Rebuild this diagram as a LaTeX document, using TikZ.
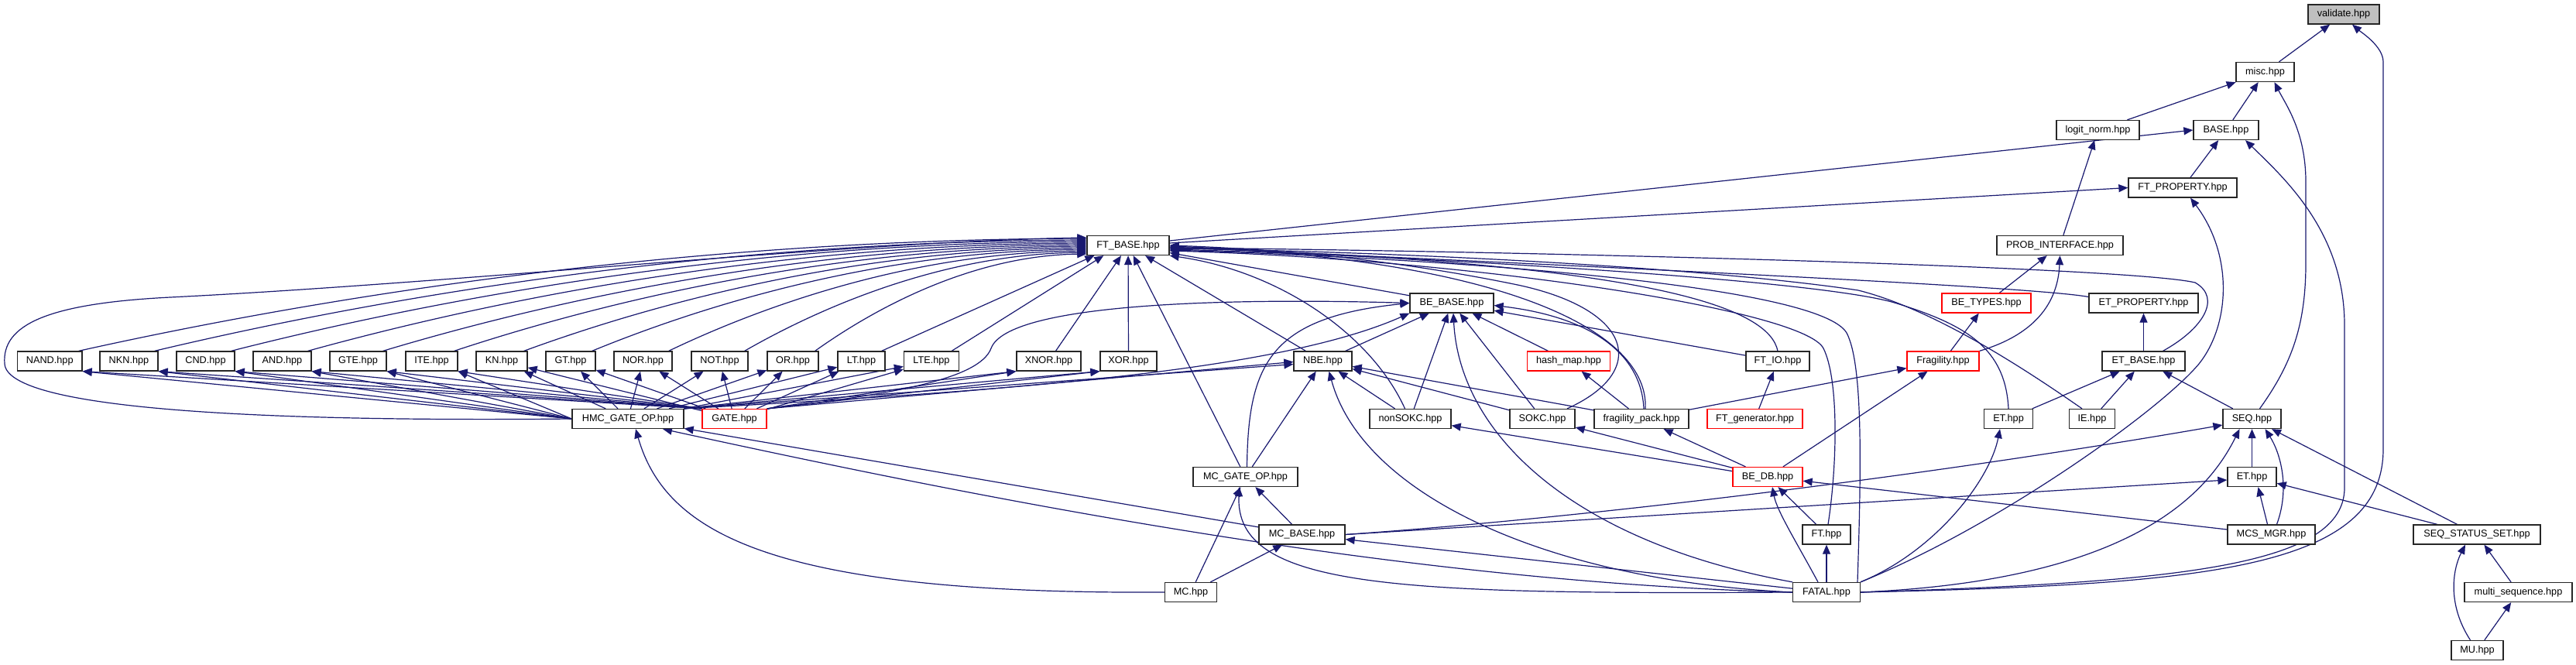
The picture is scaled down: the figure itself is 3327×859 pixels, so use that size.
\documentclass[tikz,border=0pt]{standalone}
\usepackage{fontspec}
\setmainfont{Liberation Sans}
\usetikzlibrary{arrows.meta}
\definecolor{edgeblue}{HTML}{191970}
\definecolor{rootgray}{HTML}{BFBFBF}
\pgfdeclarelayer{bg}
\pgfsetlayers{bg,main}
\begin{document}
\begin{tikzpicture}[x=1pt,y=-1pt,
  box/.style={draw=black!85, line width=1.3pt, fill=white, minimum height=25pt, inner sep=0pt,
              font=\fontsize{12.7pt}{15pt}\selectfont, text=black},
  redbox/.style={box, draw=red},
  rootbox/.style={box, fill=rootgray},
  edge/.style={draw=edgeblue, line width=1.2pt, -{Triangle[length=12pt,width=10pt]}}]
\useasboundingbox (0,0) rectangle (3327,859);
% ---------------- nodes ----------------
\node[rootbox, minimum width=92pt]  (validate) at (3027,18.5) {validate.hpp};
\node[box, minimum width=75pt]  (misc)  at (2925.5,93) {misc.hpp};
\node[box, minimum width=107pt] (logit) at (2709.5,168) {logit\_norm.hpp};
\node[box, minimum width=84pt]  (BASE)  at (2875,168) {BASE.hpp};
\node[box, minimum width=140pt] (FTP)   at (2819,242.5) {FT\_PROPERTY.hpp};
\node[box, minimum width=106pt] (FTB)   at (1457,317) {FT\_BASE.hpp};
\node[box, minimum width=163pt] (PROB)  at (2660.5,317) {PROB\_INTERFACE.hpp};
\node[box, minimum width=108pt] (BEB)   at (1875,391.5) {BE\_BASE.hpp};
\node[redbox, minimum width=115pt] (BET) at (2565.5,391.5) {BE\_TYPES.hpp};
\node[box, minimum width=141pt] (ETP)   at (2768.5,391.5) {ET\_PROPERTY.hpp};
% row 6
\node[box, minimum width=83.5pt] (NAND) at (64.25,466.5) {NAND.hpp};
\node[box, minimum width=75pt] (NKN)  at (166.5,466.5) {NKN.hpp};
\node[box, minimum width=75pt] (CND)  at (265.5,466.5) {CND.hpp};
\node[box, minimum width=75pt] (AND)  at (364.5,466.5) {AND.hpp};
\node[box, minimum width=73pt] (GTE)  at (462.5,466.5) {GTE.hpp};
\node[box, minimum width=67pt] (ITE)  at (557.5,466.5) {ITE.hpp};
\node[box, minimum width=66pt] (KN)   at (648,466.5) {KN.hpp};
\node[box, minimum width=64pt] (GT)   at (737,466.5) {GT.hpp};
\node[box, minimum width=75pt] (NOR)  at (830.5,466.5) {NOR.hpp};
\node[box, minimum width=73pt] (NOT)  at (929.5,466.5) {NOT.hpp};
\node[box, minimum width=66pt] (OR)   at (1024,466.5) {OR.hpp};
\node[box, minimum width=61pt] (LT)   at (1112.5,466.5) {LT.hpp};
\node[box, minimum width=71pt] (LTE)  at (1203,466.5) {LTE.hpp};
\node[box, minimum width=83pt] (XNOR) at (1354.5,466.5) {XNOR.hpp};
\node[box, minimum width=73pt] (XOR)  at (1457.5,466.5) {XOR.hpp};
\node[box, minimum width=75pt] (NBE)  at (1708.5,466.5) {NBE.hpp};
\node[redbox, minimum width=106.5pt] (hash) at (2026,466.5) {hash\_map.hpp};
\node[box, minimum width=82pt] (FTIO) at (2296,466.5) {FT\_IO.hpp};
\node[redbox, minimum width=93pt] (Frag) at (2509.5,466.5) {Fragility.hpp};
\node[box, minimum width=107pt] (ETB) at (2768.5,466.5) {ET\_BASE.hpp};
% row 7
\node[box, minimum width=144pt] (HMC) at (811,541) {HMC\_GATE\_OP.hpp};
\node[redbox, minimum width=83pt] (GATE) at (948.5,541) {GATE.hpp};
\node[box, minimum width=105pt] (nonSOKC) at (1821.5,541) {nonSOKC.hpp};
\node[box, minimum width=84pt] (SOKC) at (1992,541) {SOKC.hpp};
\node[box, minimum width=122pt] (fpack) at (2120,541) {fragility\_pack.hpp};
\node[redbox, minimum width=123pt] (FTgen) at (2266.5,541) {FT\_generator.hpp};
\node[box, minimum width=62.5pt] (ET7) at (2594,541) {ET.hpp};
\node[box, minimum width=58.5pt] (IE) at (2702,541) {IE.hpp};
\node[box, minimum width=75pt] (SEQ) at (2908.5,541) {SEQ.hpp};
% row 8
\node[box, minimum width=135pt] (MCG) at (1608.5,616) {MC\_GATE\_OP.hpp};
\node[redbox, minimum width=90pt] (BEDB) at (2283,616) {BE\_DB.hpp};
\node[box, minimum width=63pt] (ET8) at (2908.5,616) {ET.hpp};
% row 9
\node[box, minimum width=111pt] (MCB) at (1681.5,690.5) {MC\_BASE.hpp};
\node[box, minimum width=62pt] (FT) at (2359,690.5) {FT.hpp};
\node[box, minimum width=113pt] (MCS) at (2933.5,690.5) {MCS\_MGR.hpp};
\node[box, minimum width=164pt] (SSS) at (3199,690.5) {SEQ\_STATUS\_SET.hpp};
% row 10
\node[box, minimum width=66.5pt] (MC) at (1538,765) {MC.hpp};
\node[box, minimum width=86.5pt] (FATAL) at (2359,765) {FATAL.hpp};
\node[box, minimum width=139pt] (msq) at (3252.5,765) {multi\_sequence.hpp};
% row 11
\node[box, minimum width=67pt] (MU) at (3199.5,840) {MU.hpp};
% ---------------- edges ----------------
\begin{pgfonlayer}{bg}
\fill[white] (0,0) rectangle (3327,859);
% top part
\draw[edge] (misc) -- (validate);
\draw[edge] (FATAL.east) .. controls (2850,755) and (3078,735) .. (3078,580) -- (3078,80) .. controls (3078,60) and (3050,42) .. ([xshift=11pt]validate.south);
\draw[edge] (logit) -- (misc);
\draw[edge] (BASE) -- (misc);
\draw[edge] ([xshift=10pt]SEQ.north) .. controls (2960,470) and (2978,420) .. (2978,340) -- (2978,235) .. controls (2978,170) and (2952,135) .. ([xshift=12pt]misc.south);
\draw[edge] ([yshift=6pt]FTB.east) -- (BASE.west);
\draw[edge] (FTP) -- (BASE);
\draw[edge] (FATAL.east) .. controls (2820,752) and (3028,730) .. (3028,630) -- (3028,420) .. controls (3028,300) and (2950,230) .. ([xshift=25pt]BASE.south);
\draw[edge] (PROB) -- (logit);
\draw[edge] ([yshift=3pt]FTB.east) -- (FTP.west);
\draw[edge] (FATAL.north east) .. controls (2580,680) and (2790,530) .. (2840,470) .. controls (2880,420) and (2885,330) .. ([xshift=10pt]FTP.south);
\draw[edge] (BET) -- (PROB);
\draw[edge] (Frag.north east) .. controls (2635,430) and (2658,385) .. (PROB.south);
\draw[edge] (Frag) -- (BET);
\draw[edge] (ETB) -- (ETP);
\draw[edge] (ET7) -- (ETB);
\draw[edge] (IE) -- (ETB);
\draw[edge] (SEQ) -- (ETB);
% into FT_BASE from the right
\draw[edge] ([xshift=25pt]ETB.north) .. controls (2845,425) and (2870,385) .. (2835,365) .. controls (2750,345) and (2000,325) .. ([yshift=-3pt]FTB.east);
\draw[edge] ([yshift=8pt]ETP.west) .. controls (2640,373) and (2300,355) .. ([yshift=-2pt]FTB.east);
\draw[edge] ([xshift=-13pt]IE.north) .. controls (2620,480) and (2500,400) .. (2400,375) .. controls (2200,345) and (1800,325) .. ([yshift=-4pt]FTB.east);
\draw[edge] (ET7.north) .. controls (2590,450) and (2540,420) .. (2450,392) .. controls (2350,360) and (1800,330) .. ([yshift=-5pt]FTB.east);
\draw[edge] ([xshift=40pt]FATAL.north) .. controls (2404,600) and (2406,470) .. (2385,430) .. controls (2350,370) and (1900,335) .. ([yshift=-6pt]FTB.east);
\draw[edge] ([xshift=2pt]FT.north) .. controls (2373,600) and (2375,490) .. (2355,450) .. controls (2330,400) and (1900,335) .. ([yshift=-7pt]FTB.east);
\draw[edge] (FTIO.north) .. controls (2285,400) and (2150,340) .. ([yshift=-3pt]FTB.east);
\draw[edge] ([xshift=5pt]fpack.north) .. controls (2130,430) and (1950,335) .. ([yshift=-1pt]FTB.east);
\draw[edge] ([xshift=32pt]SOKC.north) .. controls (2130,480) and (2110,400) .. (1960,368) .. controls (1800,335) and (1650,322) .. (FTB.east);
\draw[edge] ([xshift=-7pt]nonSOKC.north) .. controls (1770,430) and (1650,350) .. (FTB.south east);
\draw[edge] (NBE) -- (FTB);
\draw[edge] (BEB) -- (FTB);
\draw[edge] (MCG) -- (FTB);
% BE_BASE and neighbours
\draw[edge] (MCG) -- (NBE);
\draw[edge] ([xshift=2pt]MCG.north) .. controls (1612,470) and (1640,410) .. (BEB.west);
\draw[edge] (NBE) -- (BEB);
\draw[edge] (nonSOKC) -- (BEB);
\draw[edge] (nonSOKC) -- (NBE);
\draw[edge] (SOKC) -- (BEB);
\draw[edge] (SOKC) -- (NBE);
\draw[edge] (hash) -- (BEB);
\draw[edge] (FTIO) -- (BEB);
\draw[edge] ([xshift=3pt]fpack.north) .. controls (2120,460) and (2060,410) .. ([yshift=-3pt]BEB.east);
\draw[edge] (fpack) -- (hash);
\draw[edge] (fpack) -- (NBE);
\draw[edge] (fpack) -- (Frag);
\draw[edge] (FTgen) -- (FTIO);
\draw[edge] (BEDB) -- (Frag);
\draw[edge] (BEDB) -- (fpack);
\draw[edge] (BEDB) -- (SOKC);
\draw[edge] (BEDB) -- (nonSOKC);
\draw[edge] (FT) -- (BEDB);
\draw[edge] (MCS) -- (BEDB);
\draw[edge] ([xshift=-11pt]FATAL.north) .. controls (2320,700) and (2295,660) .. ([xshift=6pt]BEDB.south);
\draw[edge] (FATAL) -- (FT);
\draw[edge] (FATAL.north west) .. controls (2030,700) and (1885,560) .. ([xshift=2pt]BEB.south);
\draw[edge] (FATAL.west) .. controls (2000,750) and (1760,640) .. ([xshift=8pt]NBE.south);
% MC family
\draw[edge] (MCB) -- (MCG);
\draw[edge] (MC) -- (MCG);
\draw[edge] (MC) -- (MCB);
\draw[edge] (MC.west) .. controls (1000,768) and (860,690) .. ([xshift=10pt]HMC.south);
\draw[edge] (MCB) -- (HMC);
\draw[edge] (FATAL.west) .. controls (1800,752) and (1250,640) .. ([xshift=45pt]HMC.south);
\draw[edge] (FATAL) -- (MCB);
\draw[edge] (FATAL.west) .. controls (1800,768) and (1595,760) .. ([xshift=-8pt]MCG.south);
% ET / SEQ family
\draw[edge] (FATAL.north east) .. controls (2500,712) and (2570,620) .. ([xshift=-11pt]ET7.south);
\draw[edge] (FATAL.east) .. controls (2750,750) and (2850,640) .. ([xshift=-16pt]SEQ.south);
\draw[edge] (ET8) -- (SEQ);
\draw[edge] ([xshift=7pt]MCS.north) .. controls (2958,630) and (2945,585) .. ([xshift=17pt]SEQ.south);
\draw[edge] ([xshift=-5pt]MCS.north) -- ([xshift=8pt]ET8.south);
\draw[edge] (SSS) -- (ET8);
\draw[edge] (SSS) -- (SEQ);
\draw[edge] ([xshift=-9pt]MU.north) .. controls (3160,780) and (3168,735) .. ([xshift=-15pt]SSS.south);
\draw[edge] (msq) -- (SSS);
\draw[edge] (MU) -- (msq);
\draw[edge] (MCB.east) .. controls (2100,665) and (2550,605) .. ([yshift=-8pt]SEQ.west);
\draw[edge] (MCB.east) -- ([yshift=-4pt]ET8.west);
% gates -> FT_BASE
\draw[edge] ([xshift=-5pt]NAND.north east) .. controls (427,381) and (883,310) .. ([yshift=9pt]FTB.west);
\draw[edge] ([xshift=-5pt]NKN.north east) .. controls (500,382) and (922,312) .. ([yshift=7pt]FTB.west);
\draw[edge] ([xshift=-5pt]CND.north east) .. controls (575,383) and (962,314) .. ([yshift=5pt]FTB.west);
\draw[edge] ([xshift=-5pt]AND.north east) .. controls (649,384) and (1001,316) .. ([yshift=3pt]FTB.west);
\draw[edge] ([xshift=-5pt]GTE.north east) .. controls (722,385) and (1040,318) .. ([yshift=1pt]FTB.west);
\draw[edge] ([xshift=-5pt]ITE.north east) .. controls (790,386) and (1077,320) .. ([yshift=-1pt]FTB.west);
\draw[edge] ([xshift=-5pt]KN.north east) .. controls (858,387) and (1113,322) .. ([yshift=-3pt]FTB.west);
\draw[edge] ([xshift=-5pt]GT.north east) .. controls (924,388) and (1148,324) .. ([yshift=-5pt]FTB.west);
\draw[edge] ([xshift=-5pt]NOR.north east) .. controls (998,389) and (1188,326) .. ([yshift=-7pt]FTB.west);
\draw[edge] ([xshift=-5pt]NOT.north east) .. controls (1072,390) and (1227,328) .. ([yshift=-9pt]FTB.west);
\draw[edge] ([xshift=-5pt]OR.north east) .. controls (1140,391) and (1263,330) .. ([yshift=-11pt]FTB.west);
\draw[edge] ([xshift=-5pt]LT.north east) -- ([xshift=10pt]FTB.south west);
\draw[edge] ([xshift=-10pt]LTE.north east) -- ([xshift=22pt]FTB.south west);
\draw[edge] (XNOR) -- (FTB);
\draw[edge] (XOR) -- (FTB);
\draw[edge] (HMC.west) .. controls (350,545) and (10,530) .. (6,470) .. controls (2,420) and (60,392) .. (220,384) .. controls (600,365) and (1100,312) .. ([yshift=10pt]FTB.west);
% HMC_GATE_OP and GATE -> gates
\foreach \g in {NAND,NKN,CND,AND,GTE,ITE}{
  \draw[edge] (HMC.west) -- (\g.south east);
  \draw[edge] (GATE.north west) -- (\g.south east);
}
\foreach \g in {KN,GT,NOR,NOT,OR,LT}{
  \draw[edge] (HMC) -- (\g);
  \draw[edge] (GATE) -- (\g);
}
\draw[edge] (HMC.north east) -- (LTE);
\draw[edge] (GATE) -- (LTE);
\draw[edge] (HMC.north east) -- (XNOR.south west);
\draw[edge] (GATE.north east) -- (XNOR.south west);
\draw[edge] (HMC.north east) -- (XOR.south west);
\draw[edge] (GATE.north east) -- (XOR.south west);
\draw[edge] (HMC.north east) -- ([yshift=-4pt]NBE.west);
\draw[edge] (GATE.north east) -- ([yshift=-1pt]NBE.west);
\draw[edge] (HMC.north east) .. controls (1300,505) and (1650,480) .. (BEB.south west);
\draw[edge] (GATE.north east) .. controls (1150,510) and (1265,490) .. (1280,450) .. controls (1302,390) and (1600,385) .. (BEB.west);
\end{pgfonlayer}
\end{tikzpicture}
\end{document}
